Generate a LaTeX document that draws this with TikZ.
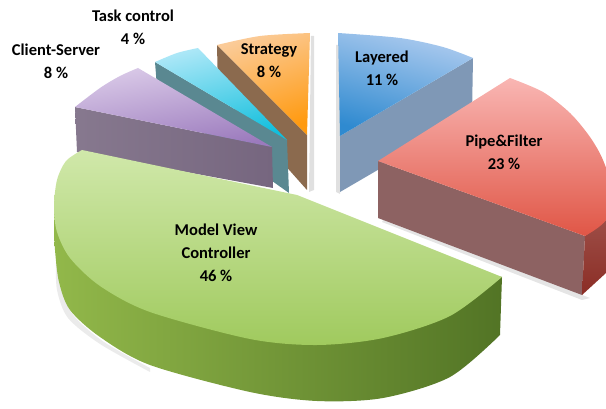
\documentclass[tikz,border=0pt]{standalone}
\usepackage{fontspec}
\setmainfont{Carlito}
\begin{document}
\begin{tikzpicture}[x=1pt,y=-1pt,
  lbl/.style={font=\fontsize{16.5}{23}\selectfont\bfseries, align=center, text=black}]
\definecolor{orTop}{HTML}{FBCB98}
\definecolor{orBot}{HTML}{FF9A10}
\definecolor{orSide}{HTML}{8B6A4E}
\definecolor{cyTop}{HTML}{ABE7F7}
\definecolor{cyBot}{HTML}{12BFDD}
\definecolor{cySide}{HTML}{5A8891}
\definecolor{puTop}{HTML}{DACAE8}
\definecolor{puBot}{HTML}{9B7ABD}
\definecolor{puSide}{HTML}{76667F}
\definecolor{blTop}{HTML}{ADCBEF}
\definecolor{blBot}{HTML}{2F8AD0}
\definecolor{blSide}{HTML}{7F98B6}
\definecolor{rdTop}{HTML}{F9B6B3}
\definecolor{rdBot}{HTML}{E05646}
\definecolor{rdSide}{HTML}{8D6262}
\definecolor{rdWall}{HTML}{8B2D25}
\definecolor{gnTop}{HTML}{D0E8AA}
\definecolor{gnBot}{HTML}{A0CA5E}
\definecolor{gnL}{HTML}{92B84A}
\definecolor{gnR}{HTML}{527425}

\useasboundingbox (0,0) rectangle (606,409);
\clip (0,0) rectangle (606,409);

% soft drop shadows behind the slabs
\fill[black!12] (311,36) -- (314,36) -- (314,190) -- (309,192) -- cycle;
\fill[black!12] (336,45) -- (340,45) -- (340,194) -- (336,192) -- cycle;
\fill[black!8] (60,260) -- plot[smooth] coordinates {(60,260) (62,290) (74,316) (104,342) (150,368)} -- (150,372) -- plot[smooth] coordinates {(150,372) (100,344) (68,318) (57,290) (56,262)} -- cycle;

% Strategy slice
\fill[orSide] (217,45) -- (307,135) -- (307,190) -- (218,90) -- cycle;
\shade[top color=orTop, bottom color=orBot, shading angle=20]
  (307,135) -- (217,45) -- plot[smooth] coordinates {(217,45) (260,36) (310,33)} -- cycle;

% Task control slice
\fill[cySide] (155,62) -- (287,140) -- (289,193) -- (158,100) -- cycle;
\shade[top color=cyTop, bottom color=cyBot, shading angle=15]
  (287,140) -- (155,62) -- plot[smooth] coordinates {(155,62) (177,53) (198,48)} -- cycle;

% Client-Server slice
\shade[left color=puSide!88!white, right color=puSide]
  (75,107) -- (272,147) -- (273,188) -- (77,152) -- cycle;
\shade[top color=puTop, bottom color=puBot, shading angle=10]
  (272,147) -- (75,107) -- plot[smooth] coordinates {(75,107) (100,88) (120,76) (138,68)} -- cycle;

% Layered slice
\fill[blSide] (340,136) -- (473,58) -- (472,115) -- (340,192) -- cycle;
\shade[top color=blTop, bottom color=blBot, shading angle=-15]
  (340,136) -- (338,33) -- plot[smooth] coordinates {(338,33) (400,38) (443,47) (473,58)} -- cycle;

% Pipe&Filter slice
\fill[black!10] (382,222) -- (582,300) -- (590,298) -- (384,218) -- cycle;
\fill[rdSide] (378,161) -- (585,236) -- (582,295) -- (378,218) -- cycle;
\shade[top color=rdWall!80!white, bottom color=rdWall]
  (585,236) -- (606,220) -- (614,198) -- (614,262) -- (606,273) -- (582,295) -- cycle;
\shade[top color=rdTop, bottom color=rdBot]
  (378,161) -- (510,78) -- plot[smooth] coordinates {(510,78) (543,92) (570,113) (590,137) (603,160) (612,190) (606,220) (585,236)} -- cycle;

% Model View Controller slice
\shade[left color=gnL, right color=gnR]
  (502,277) -- (500,335) -- plot[smooth] coordinates {(500,335) (450,377) (383,398) (317,401) (250,392) (150,365) (100,337) (70,310) (59,282) (55,250) (54,225)} -- (54,213) -- cycle;
\shade[top color=gnTop, bottom color=gnBot]
  (297,195) -- (502,277) -- plot[smooth] coordinates {(502,277) (450,316) (383,338) (317,345) (250,339) (150,312) (100,286) (70,258) (57,232) (54,207) (57,180) (66,161) (82,150)} -- cycle;

% Labels
\node[lbl] (task)   at (133,27.5) {Task control\\4 \%};
\node[lbl] (client) at (56,61)    {Client-Server\\8 \%};
\node[lbl] (strat)  at (269,61)   {Strategy\\8 \%};
\node[lbl] (layer)  at (382,68.5) {Layered\\11 \%};
\node[lbl] (pipe)   at (504,152)  {Pipe\&Filter\\23 \%};
\node[lbl] (mvc)    at (216,253)  {Model View\\Controller\\46 \%};
\end{tikzpicture}
\end{document}
